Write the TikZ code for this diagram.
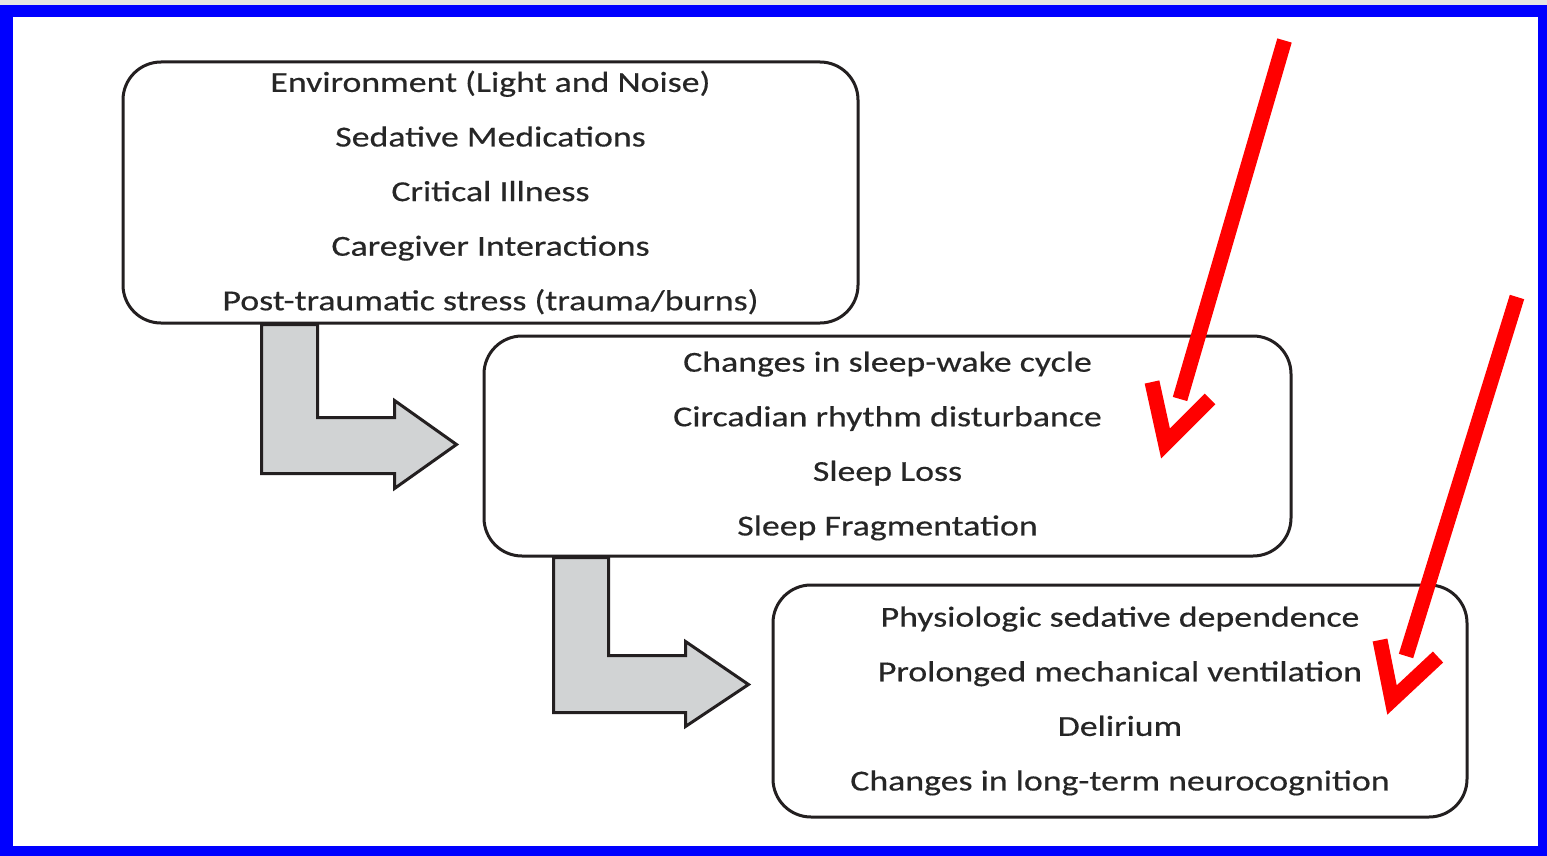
\documentclass[tikz,border=0pt]{standalone}
\usepackage{fontspec}
\setmainfont{Carlito}
\newfontfamily\boxfont[FakeStretch=1.235,FakeBold=0.4]{Carlito}
\usetikzlibrary{calc}
\definecolor{frameblue}{HTML}{0000FF}
\definecolor{strip}{HTML}{E6E6E3}
\definecolor{ink}{HTML}{231F20}
\definecolor{txt}{HTML}{262626}
\definecolor{arrowgray}{HTML}{D1D3D4}
\definecolor{mark}{HTML}{FF0000}
\tikzset{
  box/.style={draw=ink, line width=3pt, rounded corners=38pt, inner sep=0pt,
    align=center, text=txt, font=\boxfont\fontsize{29}{54.6}\selectfont},
  garrow/.style={draw=ink, fill=arrowgray, line width=3pt, line join=miter},
  redmark/.style={draw=mark, line width=15pt, line cap=butt, line join=miter}
}
\begin{document}
\begin{tikzpicture}[x=1pt,y=-1pt]
\useasboundingbox (0,0) rectangle (1547,856);
\fill[strip] (0,0) rectangle (1547,5);
\fill[frameblue] (0,5) rectangle (1547,856);
\fill[white] (13,17) rectangle (1538,846);

\node[box, minimum width=735pt, minimum height=261pt] (b1) at (490.5,192.5)
  {Environment (Light and Noise)\\Sedative Medications\\Critical Illness\\Caregiver Interactions\\Post-traumatic stress (trauma/burns)};
\node[box, minimum width=807pt, minimum height=220pt] (b2) at (887.5,446)
  {Changes in sleep-wake cycle\\Circadian rhythm disturbance\\Sleep Loss\\Sleep Fragmentation};
\node[box, minimum width=694pt, minimum height=232pt] (b3) at (1120,701)
  {Physiologic sedative dependence\\Prolonged mechanical ventilation\\Delirium\\Changes in long-term neurocognition};

\draw[garrow] ($(b1.south west)+(140,0)$) -- ++(0,149) -- ++(133,0) -- ++(0,15)
  -- ++(62,-44) -- ++(-62,-44) -- ++(0,17) -- ++(-77,0) -- ++(0,-93) -- cycle;
\draw[garrow] ($(b2.south west)+(71,0)$) -- ++(0,155) -- ++(132,0) -- ++(0,14)
  -- ++(63,-42) -- ++(-63,-43) -- ++(0,14) -- ++(-77,0) -- ++(0,-98) -- cycle;

\coordinate (r1a) at (1284.5,40.5);
\coordinate (r1b) at (1180,399);
\draw[redmark] (r1a) -- (r1b);
\draw[redmark] (1152,382) -- (1165.5,443.5) -- (1210,399);
\coordinate (r2a) at (1517,297);
\coordinate (r2b) at (1406,656);
\draw[redmark] (r2a) -- (r2b);
\draw[redmark] (1380,640) -- (1392,700) -- (1438,657);
\end{tikzpicture}
\end{document}
